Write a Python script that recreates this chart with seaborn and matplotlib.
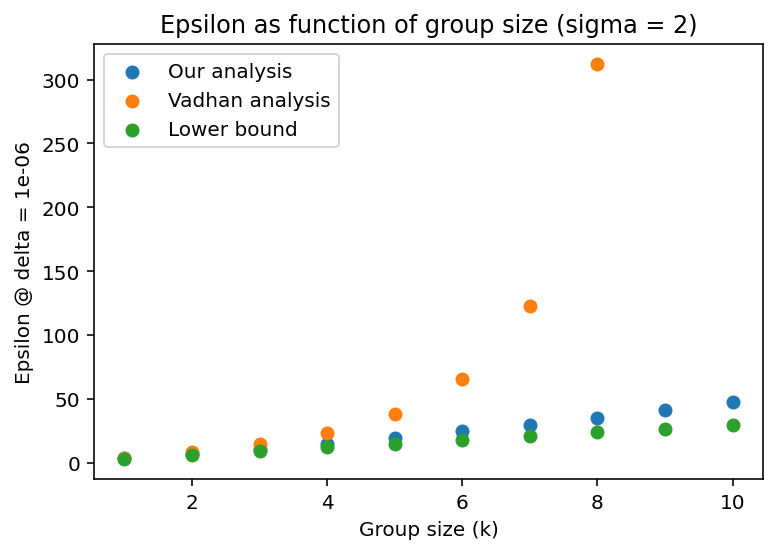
import matplotlib
matplotlib.use("Agg")
import matplotlib.pyplot as plt
import seaborn as sns

# group sizes
k_ours = [1, 2, 3, 4, 5, 6, 7, 8, 9, 10]
k_vadhan = [1, 2, 3, 4, 5, 6, 7, 8]
k_lower = [1, 2, 3, 4, 5, 6, 7, 8, 9, 10]

# epsilon values
eps_ours = [3.3, 7.0, 10.8, 14.8, 19.5, 24.5, 29.4, 34.9, 41.1, 47.4]
eps_vadhan = [3.5, 8.6, 14.3, 23.2, 38.0, 65.5, 123.0, 312.5]
eps_lower = [2.9, 6.0, 9.1, 12.0, 14.6, 17.7, 20.8, 24.0, 26.3, 29.4]

plt.figure(figsize=(5.396, 3.847), dpi=144)

sns.scatterplot(x=k_ours, y=eps_ours, label="Our analysis",
                color="#1f77b4", s=49, linewidth=0)
sns.scatterplot(x=k_vadhan, y=eps_vadhan, label="Vadhan analysis",
                color="#ff7f0e", s=49, linewidth=0)
sns.scatterplot(x=k_lower, y=eps_lower, label="Lower bound",
                color="#2ca02c", s=49, linewidth=0)

plt.xlabel("Group size (k)")
plt.ylabel("Epsilon @ delta = 1e-06")
plt.title("Epsilon as function of group size (sigma = 2)")
plt.legend(loc="upper left")
plt.subplots_adjust(left=0.121, right=0.982, top=0.919, bottom=0.134)
plt.savefig("out.png", dpi=144)
